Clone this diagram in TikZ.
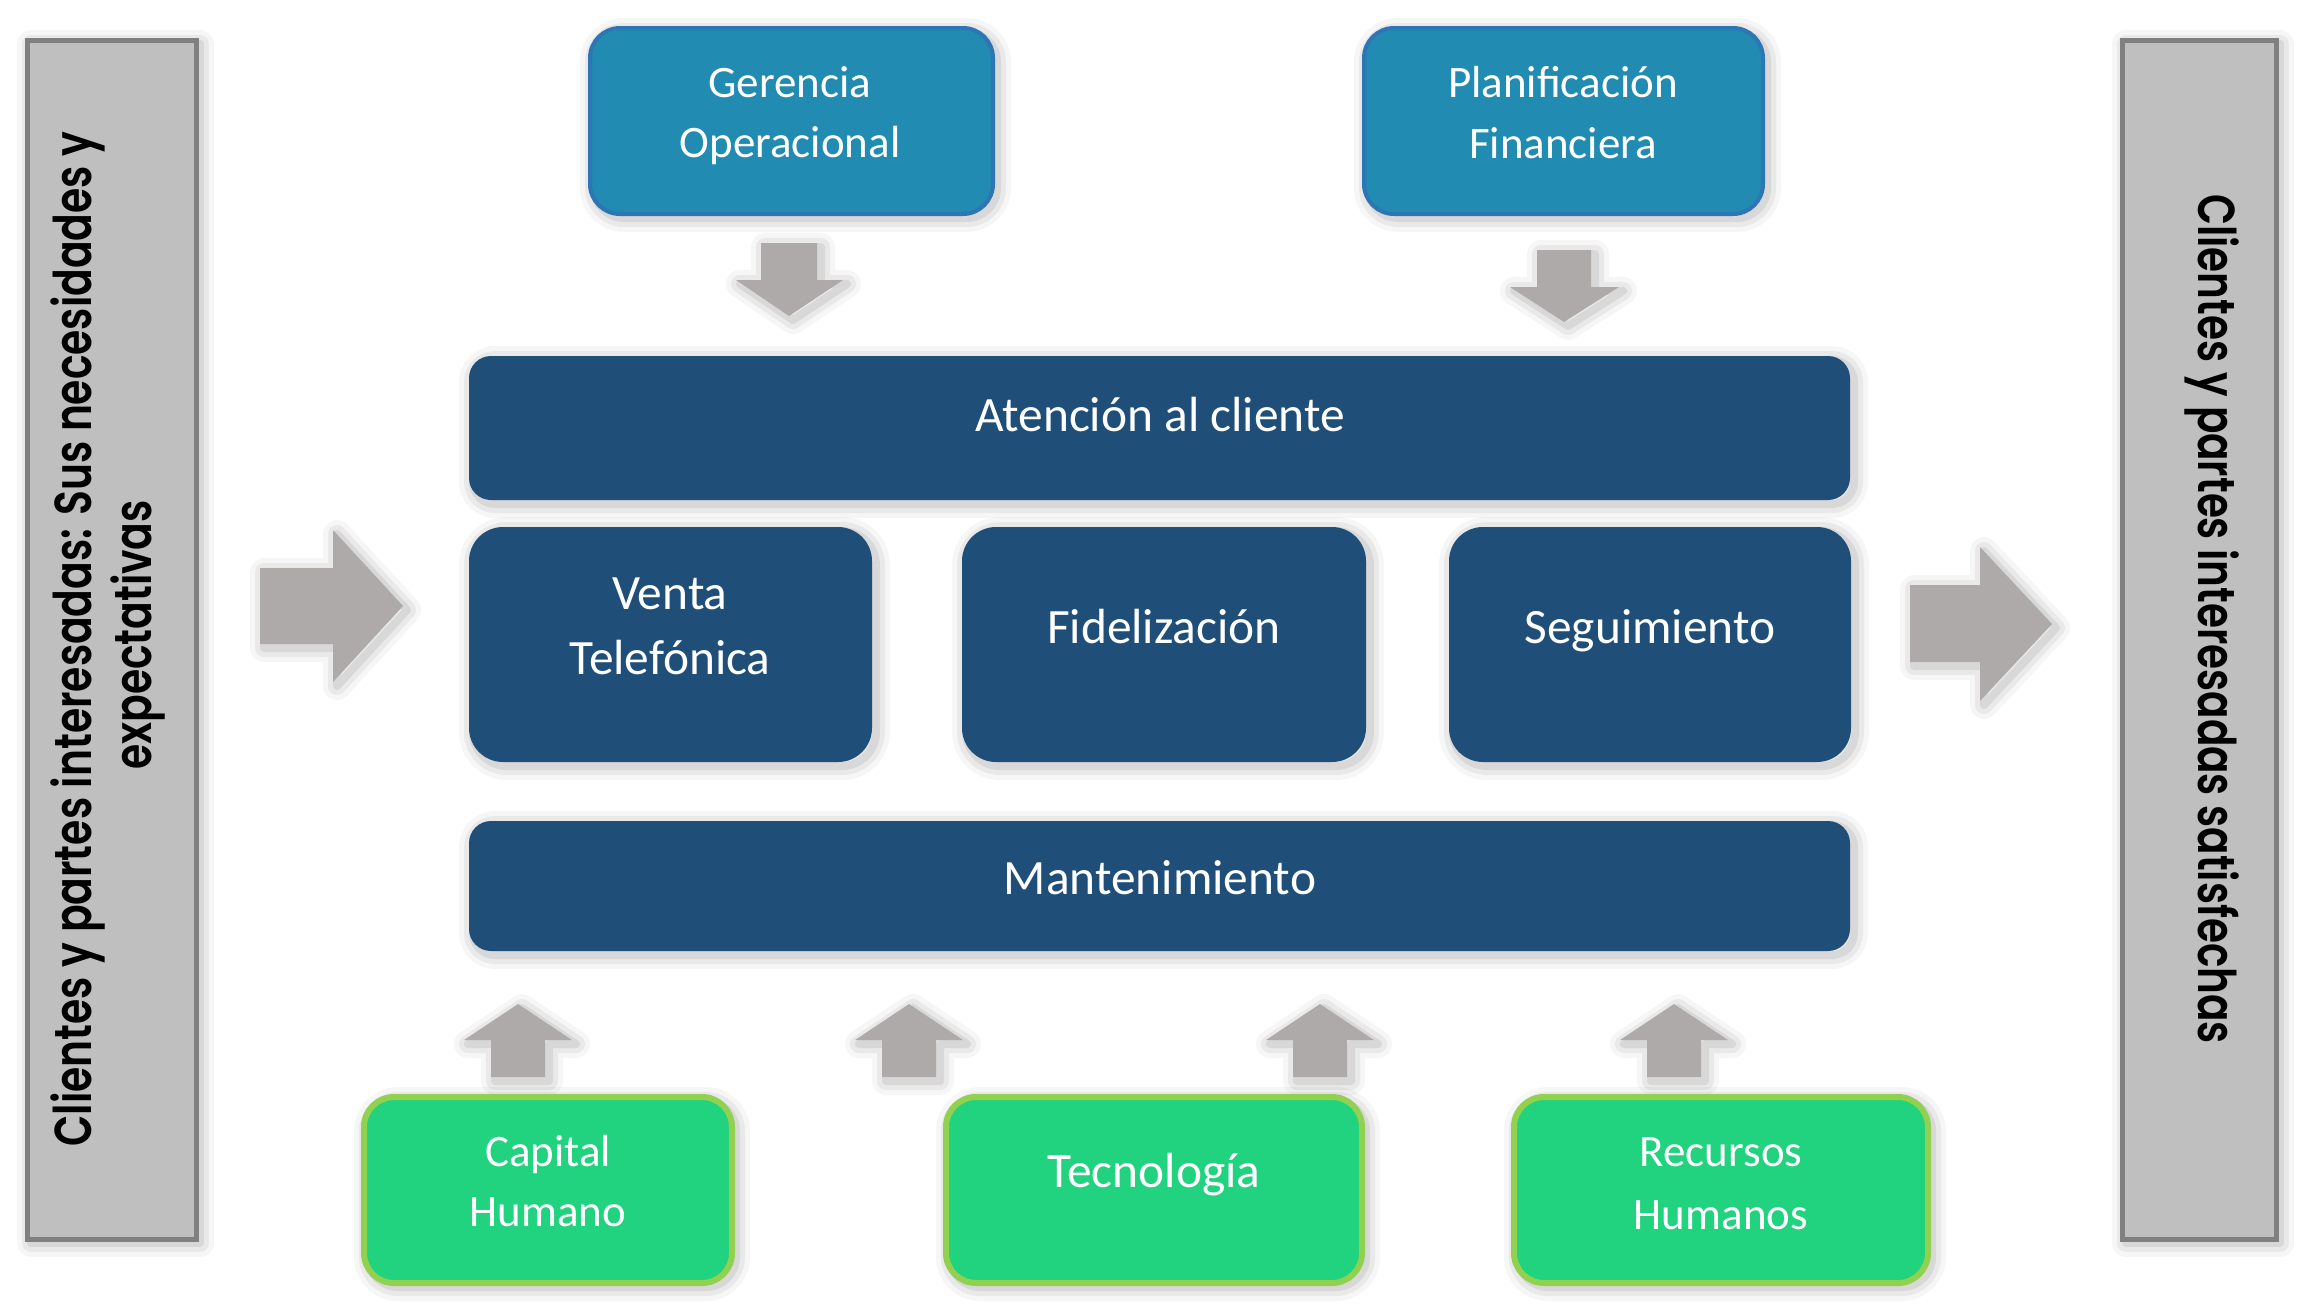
\documentclass[tikz,border=0pt]{standalone}
\usepackage{fontspec}
\usepackage{graphicx}
\setmainfont{Carlito}
\newfontfamily\sidefont{Poppins SemiBold}
\definecolor{topblue}{RGB}{34,139,177}
\definecolor{topedge}{RGB}{46,117,182}
\definecolor{darkblue}{RGB}{31,78,121}
\definecolor{grn}{RGB}{33,211,127}
\definecolor{grnedge}{RGB}{146,208,80}
\definecolor{arr}{RGB}{174,170,170}
\definecolor{barfill}{RGB}{191,191,191}
\definecolor{baredge}{RGB}{128,128,128}
\begin{document}
\begin{tikzpicture}[x=0.5pt,y=-0.5pt,
  shd/.style={
    preaction={draw=black,opacity=0.035,line width=14pt,line join=round,transform canvas={shift={(2pt,-2pt)}}},
    preaction={draw=black,opacity=0.05,line width=9pt,line join=round,transform canvas={shift={(2pt,-2pt)}}},
    preaction={draw=black,opacity=0.07,line width=4pt,line join=round,transform canvas={shift={(2pt,-2pt)}}}},
  topbox/.style={rectangle,inner sep=0,rounded corners=15pt,fill=topblue,draw=topedge,line width=2pt,shd},
  darkbox/.style={rectangle,inner sep=0,fill=darkblue,shd},
  grnbox/.style={rectangle,inner sep=0,rounded corners=15pt,fill=grn,draw=grnedge,line width=3pt,shd},
  sidebar/.style={rectangle,inner sep=0,fill=barfill,draw=baredge,line width=2.5pt,shd},
  blockarrow/.style={fill=arr,shd},
  txt/.style={text=white,inner sep=0,anchor=base},
  txtA/.style={txt,font=\fontsize{22.5}{27}\selectfont},
  txtB/.style={txt,font=\fontsize{24.7}{29}\selectfont},
  side/.style={inner sep=0,anchor=base,text=black,font=\sidefont\fontsize{26}{30}\selectfont}]
\useasboundingbox[fill=white] (0,0) rectangle (2303,1313);

% side bars
\node[sidebar,minimum width=84.5pt,minimum height=599.5pt] (lbar) at (111.5,639.5) {};
\node[sidebar,minimum width=77pt,minimum height=599.5pt] (rbar) at (2199,639.5) {};
\node[side,rotate=90] (lt1) at (91,639) {\scalebox{0.785}[1]{Clientes y partes interesadas: Sus necesidades y}};
\node[side,rotate=90] (lt2) at (151,635) {\scalebox{0.785}[1]{expectativas}};
\node[side,rotate=-90] (rt1) at (2198,619) {\scalebox{0.778}[1]{Clientes y partes interesadas satisfechas}};

% block arrows
\fill[blockarrow] (761,243) -- (817,243) -- (817,280) -- (843,280) -- (789,316) -- (736,280) -- (761,280) -- cycle;
\fill[blockarrow] (1537,250) -- (1591,250) -- (1591,287) -- (1619,287) -- (1564,322) -- (1510,287) -- (1537,287) -- cycle;
\fill[blockarrow] (491,1077) -- (545,1077) -- (545,1040) -- (572,1040) -- (518,1004) -- (464,1040) -- (491,1040) -- cycle;
\fill[blockarrow] (882,1077) -- (936,1077) -- (936,1040) -- (963,1040) -- (909,1004) -- (855,1040) -- (882,1040) -- cycle;
\fill[blockarrow] (1293,1077) -- (1347,1077) -- (1347,1040) -- (1374,1040) -- (1320,1004) -- (1266,1040) -- (1293,1040) -- cycle;
\fill[blockarrow] (1647,1077) -- (1701,1077) -- (1701,1040) -- (1728,1040) -- (1674,1004) -- (1620,1040) -- (1647,1040) -- cycle;
\fill[blockarrow] (260,568) -- (333,568) -- (333,530) -- (403,606) -- (333,682) -- (333,644) -- (260,644) -- cycle;
\fill[blockarrow] (1910,585) -- (1980,585) -- (1980,547) -- (2052,624) -- (1980,701) -- (1980,662) -- (1910,662) -- cycle;

% top boxes
\node[topbox,minimum width=201.5pt,minimum height=93pt] (ger) at (791.5,121) {};
\node[topbox,minimum width=199.5pt,minimum height=93pt] (pla) at (1563.5,121) {};
\node[txtA] (ger1) at (790,97) {Gerencia};
\node[txtA] (ger2) at (790,157) {Operacional};
\node[txtA] (pla1) at (1563,97) {Planificación};
\node[txtA] (pla2) at (1563,158) {Financiera};

% central blocks
\node[darkbox,rounded corners=11pt,minimum width=690.5pt,minimum height=72pt] (ate) at (1159.5,428) {};
\node[darkbox,rounded corners=17pt,minimum width=201.5pt,minimum height=117.5pt] (ven) at (670.5,644.5) {};
\node[darkbox,rounded corners=17pt,minimum width=202pt,minimum height=117.5pt] (fid) at (1164,644.5) {};
\node[darkbox,rounded corners=17pt,minimum width=201pt,minimum height=117.5pt] (seg) at (1650,644.5) {};
\node[darkbox,rounded corners=11pt,minimum width=690.5pt,minimum height=65pt] (man) at (1159.5,886) {};
\node[txtB] (atet) at (1160,431) {Atención al cliente};
\node[txtB] (ven1) at (670,609) {Venta};
\node[txtB] (ven2) at (670,674) {Telefónica};
\node[txtB] (fidt) at (1164,643) {Fidelización};
\node[txtB] (segt) at (1650,643) {Seguimiento};
\node[txtB] (mant) at (1160,894) {Mantenimiento};

% green boxes
\node[grnbox,minimum width=184pt,minimum height=93pt] (cap) at (548,1190) {};
\node[grnbox,minimum width=208pt,minimum height=93pt] (tec) at (1154,1190) {};
\node[grnbox,minimum width=207pt,minimum height=93pt] (rec) at (1721,1190) {};
\node[txtA] (cap1) at (548,1166) {Capital};
\node[txtA] (cap2) at (548,1226) {Humano};
\node[txtB] (tect) at (1154,1187) {Tecnología};
\node[txtA] (rec1) at (1721,1166) {Recursos};
\node[txtA] (rec2) at (1721,1229) {Humanos};
\end{tikzpicture}
\end{document}
